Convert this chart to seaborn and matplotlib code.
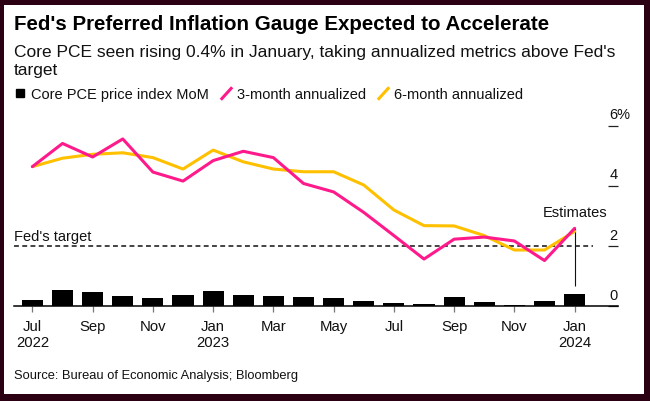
import matplotlib
matplotlib.use("Agg")
import matplotlib.pyplot as plt
import matplotlib.path as mpath
from matplotlib.lines import Line2D
from matplotlib.patches import Rectangle
from matplotlib.transforms import ScaledTranslation
import seaborn as sns
import pandas as pd
import numpy as np

# ---------------- data ----------------
months = ["Jul 2022", "Aug 2022", "Sep 2022", "Oct 2022", "Nov 2022", "Dec 2022",
          "Jan 2023", "Feb 2023", "Mar 2023", "Apr 2023", "May 2023", "Jun 2023",
          "Jul 2023", "Aug 2023", "Sep 2023", "Oct 2023", "Nov 2023", "Dec 2023",
          "Jan 2024"]
mom = [0.21, 0.53, 0.46, 0.34, 0.27, 0.38, 0.50, 0.36, 0.33, 0.30, 0.28, 0.17,
       0.10, 0.08, 0.32, 0.13, 0.05, 0.17, 0.40]
three_month = [4.64, 5.41, 4.96, 5.56, 4.46, 4.16, 4.84, 5.15, 4.94, 4.08, 3.80,
               3.12, 2.35, 1.57, 2.23, 2.30, 2.17, 1.52, 2.59]
six_month = [4.64, 4.92, 5.05, 5.10, 4.94, 4.56, 5.19, 4.80, 4.56, 4.47, 4.47,
             4.03, 3.20, 2.68, 2.67, 2.35, 1.87, 1.87, 2.49]
fed_target = 2.0
xtick_labels = ["Jul\n2022", "Sep", "Nov", "Jan\n2023", "Mar", "May", "Jul",
                "Sep", "Nov", "Jan\n2024"]
ytick_values = [0, 2, 4, 6]
ytick_labels = ["0", "2", "4", "6%"]

title = "Fed's Preferred Inflation Gauge Expected to Accelerate"
subtitle_1 = "Core PCE seen rising 0.4% in January, taking annualized metrics above Fed's"
subtitle_2 = "target"
source = "Source: Bureau of Economic Analysis; Bloomberg"
legend_labels = ["Core PCE price index MoM", "3-month annualized", "6-month annualized"]

PINK = "#ff1a8c"
YELLOW = "#ffc000"
BORDER = "#2a0012"
TEXT = "#111111"

df = pd.DataFrame({"idx": np.arange(len(months)), "month": months, "mom": mom,
                   "three": three_month, "six": six_month})

# ---------------- figure ----------------
sns.set_theme(style="white")
plt.rcParams["font.family"] = ["Liberation Sans", "DejaVu Sans"]
plt.rcParams["text.color"] = TEXT

W, H = 650, 402
fig = plt.figure(figsize=(W / 100, H / 100), dpi=100)
fig.patch.set_facecolor(BORDER)
fig.patches.append(Rectangle((4 / W, 7 / H), 640 / W, 389 / H, transform=fig.transFigure,
                             facecolor="white", edgecolor="none", zorder=-10))

ax = fig.add_axes([14 / W, (H - 307.3) / H, 604 / W, 180.6 / H])
ax.set_facecolor("none")

sns.barplot(data=df, x="idx", y="mom", color="black", width=0.7, saturation=1,
            edgecolor="none", ax=ax, zorder=2)
sns.lineplot(data=df, x="idx", y="six", color=YELLOW, linewidth=2.2, ax=ax,
             zorder=3, clip_on=False)
sns.lineplot(data=df, x="idx", y="three", color=PINK, linewidth=2.2, ax=ax,
             zorder=4, clip_on=False)

# Fed's target
ax.axhline(fed_target, xmin=0, xmax=(593 - 14) / 604, color="#111111", lw=1.1,
           linestyle=(0, (3.2, 2.2)), zorder=1)
ax.text(-0.61, fed_target + 0.19, "Fed's target", fontsize=10.5, ha="left",
        va="baseline", color=TEXT)

# Estimates annotation
last = len(months) - 1
ax.vlines(last, 0.67, three_month[-1], color="#111111", lw=0.8, zorder=1)
ax.text(last, 3.0, "Estimates", fontsize=10.5, ha="center", va="baseline", color=TEXT)

ax.set_xlim(-0.61, 19.44)
ax.set_ylim(0, 6)
ax.set_xlabel("")
ax.set_ylabel("")

for s in ["top", "left", "right"]:
    ax.spines[s].set_visible(False)
ax.spines["bottom"].set_color("black")
ax.spines["bottom"].set_linewidth(1.1)

ax.set_xticks(np.arange(0, len(months), 2))
ax.set_xticklabels(xtick_labels, fontsize=10.7, color=TEXT, linespacing=1.22)
ax.tick_params(axis="x", direction="out", length=4.2, width=0.9, color="#777777",
               pad=5, bottom=True)

ax.yaxis.tick_right()
ax.set_yticks(ytick_values)
ax.set_yticklabels(ytick_labels, fontsize=10.5, color=TEXT)
ax.tick_params(axis="y", direction="in", length=7.2, width=0.9, color="#222222", pad=0,
               right=True, left=False)
ax.yaxis.get_major_ticks()[-1].tick2line.set_color("#999999")
off = ScaledTranslation(-8.5 / 100, 13 / 100, fig.dpi_scale_trans)
for lab in ax.get_yticklabels():
    lab.set_transform(lab.get_transform() + off)
    lab.set_ha("left")

# ---------------- texts ----------------
def fy(px):
    return 1 - px / H

fig.text(14 / W, fy(30), title, fontsize=14.8, fontweight="bold", ha="left",
         va="baseline", color="#000000")
fig.text(14 / W, fy(56.7), subtitle_1, fontsize=12.5, ha="left", va="baseline", color=TEXT)
fig.text(14 / W, fy(75), subtitle_2, fontsize=12.5, ha="left", va="baseline", color=TEXT)
fig.text(14 / W, fy(379), source, fontsize=9.3, ha="left", va="baseline", color=TEXT)

# ---------------- legend ----------------
slash = mpath.Path([(-1, -1.1), (1, 1.1)], [mpath.Path.MOVETO, mpath.Path.LINETO])
handles = [
    Line2D([], [], linestyle="none", marker="s", markersize=5.8, color="black"),
    Line2D([], [], linestyle="none", marker=slash, markersize=9, markeredgewidth=2.2,
           markeredgecolor=PINK),
    Line2D([], [], linestyle="none", marker=slash, markersize=9, markeredgewidth=2.2,
           markeredgecolor=YELLOW),
]
fig.legend(handles, legend_labels, loc="center left",
           bbox_to_anchor=(14.2 / W, fy(95)), ncol=3, frameon=False, fontsize=10.5,
           handlelength=0.8, handletextpad=0.35, columnspacing=0.77, borderpad=0,
           borderaxespad=0, labelcolor=TEXT)

fig.savefig("out.png", dpi=100, facecolor=fig.get_facecolor())
